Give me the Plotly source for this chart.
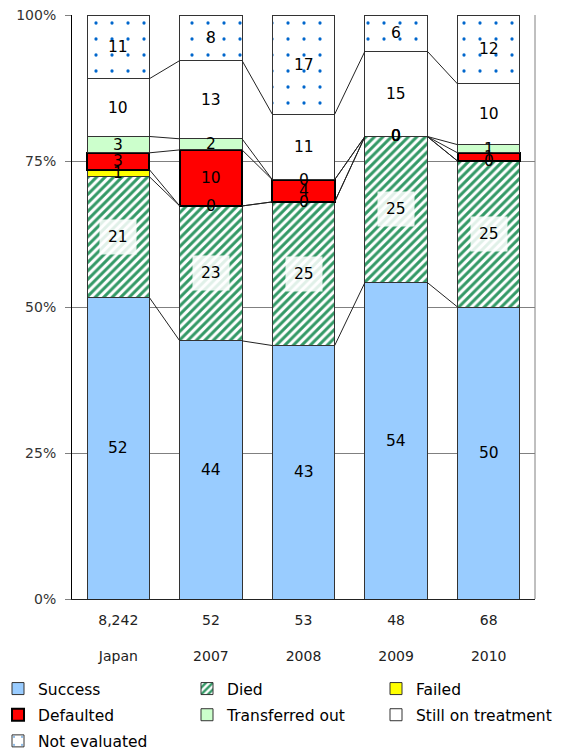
import plotly.graph_objects as go

# ── Data: treatment outcome shares (%) by cohort ─────────────────────────────
CATEGORIES = ["Japan", "2007", "2008", "2009", "2010"]
N_CASES = ["8,242", "52", "53", "48", "68"]

SUCCESS = [51.6, 44.2, 43.4, 54.2, 50.0]
DIED = [20.7, 23.1, 24.6, 25.0, 25.0]
FAILED = [1.2, 0.0, 0.0, 0.0, 0.0]
DEFAULTED = [2.9, 9.6, 3.8, 0.0, 1.4]
TRANSFERRED = [2.8, 1.9, 0.0, 0.0, 1.4]
STILL_ON = [9.9, 13.4, 11.2, 14.6, 10.4]
NOT_EVALUATED = [10.9, 7.8, 17.0, 6.2, 11.8]

Y_TICKS = [0, 25, 50, 75, 100]
Y_TICK_LABELS = ["0%", "25%", "50%", "75%", "100%"]

FONT = "DejaVu Sans"
BARGAP = 0.327
GRID = "#808080"

SERIES = [
    # name, values, style, legend
    ("Success", SUCCESS, dict(color="#99CCFF", line=dict(color="#333333", width=1)), "legend"),
    ("Died", DIED, dict(color="white", line=dict(color="#333333", width=1),
                        pattern=dict(shape="/", fgcolor="#339966", bgcolor="white", fgopacity=1,
                                     size=6, solidity=0.5)), "legend2"),
    ("Failed", FAILED, dict(color="#FFFF00", line=dict(color="#333333", width=1)), "legend3"),
    ("Defaulted", DEFAULTED, dict(color="#FF0000", line=dict(color="black", width=2)), "legend"),
    ("Transferred out", TRANSFERRED, dict(color="#CCFFCC", line=dict(color="#333333", width=1)), "legend2"),
    ("Still on treatment", STILL_ON, dict(color="white", line=dict(color="#333333", width=1)), "legend3"),
    ("Not evaluated", NOT_EVALUATED, dict(color="white", line=dict(color="#333333", width=1),
                                          pattern=dict(shape=".", fgcolor="#0066CC", bgcolor="white",
                                                       fgopacity=1, size=16, solidity=0.033)), "legend"),
]

x_pos = list(range(len(CATEGORIES)))
fig = go.Figure()

# ── Stacked bars ─────────────────────────────────────────────────────────────
for name, vals, marker, leg in SERIES:
    fig.add_trace(go.Bar(
        x=x_pos, y=vals, name=name, marker=marker,
        legend=leg, legendgroup=name, hoverinfo="skip",
    ))

# ── Series lines + value labels ──────────────────────────────────────────────
half = (1 - BARGAP) / 2
base = [0.0] * len(CATEGORIES)
annotations = []
for name, vals, _, _ in SERIES:
    tops = [b + v for b, v in zip(base, vals)]
    for i, v in enumerate(vals):
        ann = dict(x=i, y=base[i] + v / 2, xref="x", yref="y", text=f"{v:.0f}",
                   showarrow=False, font=dict(family=FONT, size=15.5, color="black"))
        if name == "Died":
            ann.update(bgcolor="rgba(255,255,255,0.85)", borderpad=8)
        annotations.append(ann)
    if name != "Not evaluated":
        lx, ly = [], []
        for i in range(len(CATEGORIES) - 1):
            lx += [i + half, i + 1 - half, None]
            ly += [tops[i], tops[i + 1], None]
        fig.add_trace(go.Scatter(x=lx, y=ly, mode="lines", showlegend=False,
                                 line=dict(color="#222222", width=1), hoverinfo="skip"))
    base = tops

legend_common = dict(
    orientation="v", xanchor="left", yanchor="top", y=-0.125,
    font=dict(family=FONT, size=15.5, color="black"),
    bgcolor="rgba(0,0,0,0)", tracegroupgap=3, traceorder="grouped",
)

# page body adds an 8px offset, so the figure is 8px smaller than the window
fig.update_layout(
    width=557, height=743,
    margin=dict(l=64, r=30, t=7, b=152, autoexpand=False),
    barmode="stack", bargap=BARGAP,
    paper_bgcolor="white", plot_bgcolor="white",
    font=dict(family=FONT, color="#222222"),
    xaxis=dict(
        range=[-0.5, len(CATEGORIES) - 0.5],
        tickmode="array", tickvals=x_pos,
        ticktext=[f"{n}<br><br>{c}" for n, c in zip(N_CASES, CATEGORIES)],
        tickfont=dict(size=14, color="#222222"),
        showgrid=False, zeroline=False,
        showline=True, linecolor="#222222", linewidth=1,
        ticks="", ticklabelstandoff=8,
    ),
    yaxis=dict(
        range=[0, 100], tickmode="array", tickvals=Y_TICKS, ticktext=Y_TICK_LABELS,
        tickfont=dict(size=14, color="#333333"), ticklabeloverflow="allow",
        showgrid=True, gridcolor=GRID, gridwidth=1, zeroline=False,
        showline=True, linecolor="black", linewidth=1,
        ticks="outside", ticklen=6, tickcolor=GRID, ticklabelstandoff=6,
    ),
    legend=dict(legend_common, x=-0.1598),
    legend2=dict(legend_common, x=0.2484),
    legend3=dict(legend_common, x=0.6566),
    shapes=[dict(type="line", xref="paper", yref="paper", x0=1, x1=1, y0=0, y1=1,
                 line=dict(color=GRID, width=1))],
    annotations=annotations,
)

fig.write_html("out.html")
